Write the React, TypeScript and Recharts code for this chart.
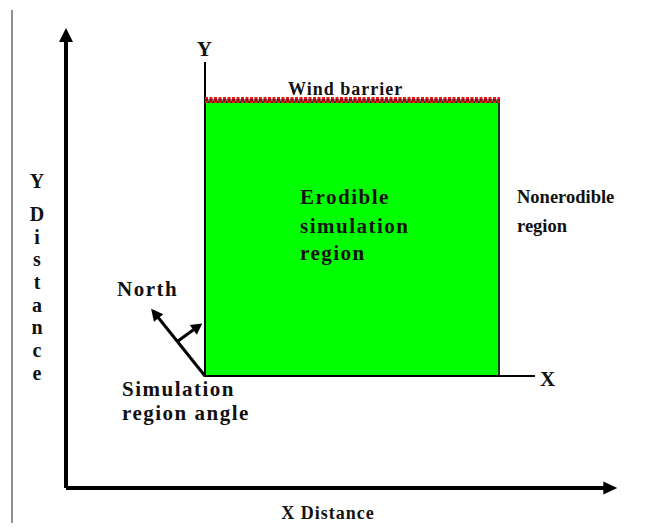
import {
  ComposedChart,
  Line,
  Scatter,
  XAxis,
  YAxis,
  ReferenceArea,
} from "recharts";

type Pt = { x: number; y: number };
type Label = { x: number; y: number; text: string; anchor?: "start" | "middle" | "end" };

// diagram coordinates (x to the right, y downward)
const distanceAxisY: Pt[] = [{ x: 66, y: 488 }, { x: 66, y: 32 }];
const distanceAxisX: Pt[] = [{ x: 66, y: 488 }, { x: 613, y: 488 }];
const localAxisY: Pt[] = [{ x: 205, y: 376 }, { x: 205, y: 62 }];
const localAxisX: Pt[] = [{ x: 205, y: 376 }, { x: 535, y: 376 }];
const windBarrier: Pt[] = [{ x: 205, y: 100 }, { x: 500, y: 100 }];
const northArrow: Pt[] = [{ x: 205, y: 376 }, { x: 153, y: 311 }];
const angleArrow: Pt[] = [{ x: 178, y: 341 }, { x: 200, y: 325 }];
const frameEdge: Pt[] = [{ x: 12, y: 10 }, { x: 12, y: 531 }];

const regionX = [205, 499];
const regionY = [102, 376];

const regionLabels: Label[] = [
  { x: 205, y: 56, text: "Y", anchor: "middle" },
  { x: 540, y: 386, text: "X" },
  { x: 300, y: 204, text: "Erodible" },
  { x: 300, y: 233, text: "simulation" },
  { x: 300, y: 260, text: "region" },
  { x: 117, y: 296, text: "North" },
  { x: 122, y: 396, text: "Simulation" },
  { x: 122, y: 420, text: "region angle" },
];

const outsideLabels: Label[] = [
  { x: 517, y: 203, text: "Nonerodible" },
  { x: 517, y: 232, text: "region" },
];

const titleLabels: Label[] = [
  { x: 288, y: 95, text: "Wind barrier" },
  { x: 328, y: 519, text: "X Distance", anchor: "middle" },
];

const verticalLetters = ["Y", "D", "i", "s", "t", "a", "n", "c", "e"];
const verticalRows = [188, 221, 244, 266, 289, 312, 334, 357, 380];
const verticalLabel: Label[] = verticalLetters.map((ch, i) => ({
  x: 37,
  y: verticalRows[i],
  text: ch,
  anchor: "middle" as const,
}));

const serif = "'Liberation Serif', 'Times New Roman', serif";

function arrowHead(line: Pt[], len: number, half: number, stroke: number) {
  return (p: any) => {
    const key = `ah-${p.index}`;
    if (p.index !== line.length - 1) return <g key={key} />;
    const a = line[line.length - 2];
    const b = line[line.length - 1];
    const dx = b.x - a.x;
    const dy = b.y - a.y;
    const d = Math.hypot(dx, dy);
    const ux = dx / d;
    const uy = dy / d;
    const ext = ((stroke / 2) * len) / half;
    const tx = p.cx + ux * ext;
    const ty = p.cy + uy * ext;
    const bx = tx - ux * len;
    const by = ty - uy * len;
    const pts = [
      [tx, ty],
      [bx - uy * half, by + ux * half],
      [bx + uy * half, by - ux * half],
    ]
      .map((q) => q.join(","))
      .join(" ");
    return <polygon key={key} points={pts} fill="#000" />;
  };
}

function textShape(size: number, spacing: number) {
  return (p: any) => {
    const l: Label = p.payload;
    return (
      <text
        x={p.cx}
        y={p.cy}
        textAnchor={l.anchor ?? "start"}
        fontFamily={serif}
        fontWeight="bold"
        fontSize={size}
        letterSpacing={spacing}
        fill="#111"
      >
        {l.text}
      </text>
    );
  };
}

export default function App() {
  return (
    <div style={{ margin: -8, width: 652, height: 531, background: "#fff" }}>
      <ComposedChart width={652} height={531} margin={{ top: 0, right: 0, bottom: 0, left: 0 }}>
        <XAxis type="number" dataKey="x" domain={[0, 652]} hide allowDataOverflow />
        <YAxis type="number" dataKey="y" domain={[0, 531]} reversed hide width={0} allowDataOverflow />
        <ReferenceArea
          x1={regionX[0]}
          x2={regionX[1]}
          y1={regionY[0]}
          y2={regionY[1]}
          fill="#00ff00"
          fillOpacity={1}
          stroke="#1c3a1c"
          strokeWidth={2}
          ifOverflow="visible"
        />
        <Line data={frameEdge} dataKey="y" stroke="#222" strokeWidth={1} dot={false} activeDot={false} isAnimationActive={false} />
        <Line data={distanceAxisY} dataKey="y" stroke="#000" strokeWidth={4} dot={arrowHead(distanceAxisY, 14, 7, 4)} activeDot={false} isAnimationActive={false} />
        <Line data={distanceAxisX} dataKey="y" stroke="#000" strokeWidth={4} dot={arrowHead(distanceAxisX, 14, 6.5, 4)} activeDot={false} isAnimationActive={false} />
        <Line data={localAxisY} dataKey="y" stroke="#000" strokeWidth={2} dot={false} activeDot={false} isAnimationActive={false} />
        <Line data={localAxisX} dataKey="y" stroke="#000" strokeWidth={2} dot={false} activeDot={false} isAnimationActive={false} />
        <Line data={windBarrier} dataKey="y" stroke="#e31818" strokeWidth={6} strokeDasharray="3 1.5" dot={false} activeDot={false} isAnimationActive={false} />
        <Line data={windBarrier} dataKey="y" stroke="#3a0000" strokeWidth={1.2} dot={false} activeDot={false} isAnimationActive={false} />
        <Line data={northArrow} dataKey="y" stroke="#000" strokeWidth={3} dot={arrowHead(northArrow, 12, 6, 3)} activeDot={false} isAnimationActive={false} />
        <Line data={angleArrow} dataKey="y" stroke="#000" strokeWidth={3} dot={arrowHead(angleArrow, 11, 6, 3)} activeDot={false} isAnimationActive={false} />
        <Scatter data={regionLabels} dataKey="y" shape={textShape(21, 1.5)} isAnimationActive={false} />
        <Scatter data={outsideLabels} dataKey="y" shape={textShape(18.5, 0)} isAnimationActive={false} />
        <Scatter data={titleLabels} dataKey="y" shape={textShape(18, 1)} isAnimationActive={false} />
        <Scatter data={verticalLabel} dataKey="y" shape={textShape(20, 0)} isAnimationActive={false} />
      </ComposedChart>
    </div>
  );
}
